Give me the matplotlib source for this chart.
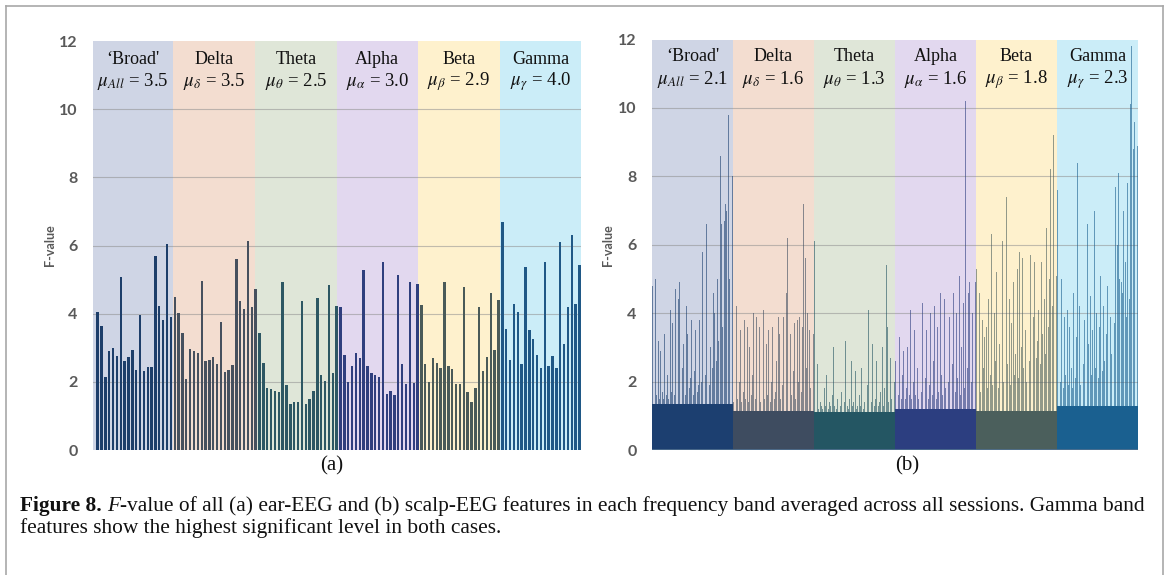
import matplotlib
matplotlib.use('Agg')
import matplotlib.pyplot as plt
import numpy as np
from matplotlib.lines import Line2D

plt.rcParams['mathtext.fontset'] = 'stix'

# ---------------- data ----------------
bands = ["\u2018Broad'", 'Delta', 'Theta', 'Alpha', 'Beta', 'Gamma']
mu_syms = [r'$\mu_{All}$', r'$\mu_{\delta}$', r'$\mu_{\theta}$',
           r'$\mu_{\alpha}$', r'$\mu_{\beta}$', r'$\mu_{\gamma}$']
mu_a = [3.5, 3.5, 2.5, 3.0, 2.9, 4.0]
mu_b = [2.1, 1.6, 1.3, 1.6, 1.8, 2.3]
yticks = [0, 2, 4, 6, 8, 10, 12]

# (a) ear-EEG features
ear_broad = [4.04, 3.65, 2.15, 2.89, 2.98, 2.77, 5.07, 2.60, 2.74, 2.92,
             2.36, 3.95, 2.33, 2.44, 2.43, 5.68, 4.23, 3.81, 6.03, 3.91]
ear_delta = [4.50, 4.01, 3.43, 2.08, 2.96, 2.91, 2.86, 4.95, 2.61, 2.65, 2.74,
             2.51, 3.76, 2.28, 2.34, 2.48, 5.61, 4.36, 4.13, 6.12, 4.21, 4.72]
ear_theta = [3.42, 2.54, 1.81, 1.79, 1.74, 1.71, 4.93, 1.90, 1.35, 1.42, 1.42,
             4.37, 1.36, 1.49, 1.74, 4.46, 2.20, 2.03, 4.84, 2.27, 4.22]
ear_alpha = [4.19, 2.79, 2.00, 2.46, 2.84, 2.70, 5.29, 2.46, 2.27, 2.21, 2.13,
             5.52, 1.65, 1.74, 1.60, 5.12, 2.53, 1.95, 4.93, 1.98, 4.88]
ear_beta = [4.26, 2.52, 1.99, 2.71, 2.56, 2.41, 4.94, 2.45, 2.37, 1.93, 1.93,
            4.79, 1.71, 1.42, 1.81, 4.20, 2.32, 2.73, 4.61, 2.93, 4.40]
ear_gamma = [6.69, 3.56, 2.63, 4.29, 4.04, 2.53, 5.36, 3.53, 3.25, 2.79, 2.42,
             5.53, 2.47, 2.75, 2.42, 6.11, 3.11, 4.21, 6.30, 4.29, 5.44]

# (b) scalp-EEG features (sampled read-off of the dense bars)
scalp_broad = [4.8, 3.4, 5.0, 1.6, 3.2, 1.5, 2.9, 1.7, 1.5, 3.4,
               1.6, 2.2, 1.5, 4.1, 1.7, 3.7, 1.6, 4.7, 2.0, 4.4,
               4.9, 1.7, 2.4, 3.1, 1.6, 4.2, 3.4, 1.8, 2.1, 3.8,
               1.6, 2.3, 3.5, 1.7, 1.9, 3.8, 2.0, 5.8, 3.9, 2.2,
               6.6, 4.4, 1.9, 3.0, 2.4, 4.6, 4.0, 2.6, 5.0, 3.2,
               8.6, 6.6, 3.6, 6.7, 7.2, 7.0, 9.8, 5.0, 6.5, 8.0]
scalp_delta = [1.4, 1.6, 4.2, 1.5, 2.0, 3.5, 1.4, 1.7, 3.8, 1.5,
               3.6, 1.4, 3.0, 1.6, 2.2, 4.0, 1.5, 3.9, 1.7, 3.6,
               1.4, 2.4, 4.1, 1.5, 3.1, 1.6, 3.5, 1.4, 2.0, 3.6,
               1.5, 1.7, 2.6, 3.9, 3.4, 1.5, 1.9, 3.9, 1.6, 4.6,
               6.2, 1.8, 3.4, 1.6, 2.3, 3.7, 1.5, 3.8, 2.0, 3.9,
               1.7, 3.6, 7.2, 5.6, 2.4, 4.0, 3.5, 1.8, 3.0, 3.4]
scalp_theta = [6.1, 1.3, 2.5, 1.2, 1.4, 1.3, 1.2, 1.8, 1.3, 2.2,
               1.2, 1.4, 1.3, 1.6, 3.0, 1.3, 1.2, 1.5, 2.9, 1.3,
               1.7, 3.5, 1.4, 3.2, 1.3, 1.2, 1.5, 2.6, 1.3, 1.4,
               2.3, 1.2, 1.3, 1.6, 1.3, 2.4, 1.2, 1.4, 1.3, 1.9,
               4.1, 4.8, 1.4, 3.1, 1.3, 1.5, 2.6, 1.3, 1.4, 1.7,
               3.0, 1.3, 1.8, 5.4, 3.6, 1.4, 2.7, 1.5, 2.9, 2.0]
scalp_alpha = [2.6, 3.2, 1.6, 3.3, 1.5, 2.2, 2.9, 1.5, 1.8, 3.0,
               1.6, 4.1, 1.5, 2.0, 3.5, 1.6, 2.4, 1.5, 7.0, 1.7,
               4.3, 1.6, 2.1, 3.5, 1.5, 1.9, 4.0, 1.6, 2.6, 4.2,
               1.5, 3.6, 1.7, 4.6, 2.2, 1.6, 4.4, 1.8, 5.6, 2.0,
               3.9, 1.6, 2.5, 4.6, 1.7, 4.0, 2.1, 5.1, 1.6, 3.0,
               4.3, 1.8, 10.2, 2.4, 4.6, 4.9, 2.0, 4.0, 5.0, 4.9]
scalp_beta = [5.3, 2.0, 4.6, 1.7, 3.8, 2.4, 3.3, 3.6, 1.8, 4.4,
              2.2, 6.3, 1.9, 4.0, 2.6, 5.2, 1.8, 3.1, 2.3, 6.1,
              2.0, 3.4, 7.4, 2.5, 4.4, 1.9, 3.7, 4.9, 2.2, 2.8,
              5.3, 2.1, 5.8, 3.0, 5.6, 2.4, 3.5, 2.0, 4.5, 2.6,
              5.7, 2.3, 3.9, 5.5, 2.7, 3.2, 4.1, 2.5, 5.5, 3.4,
              4.4, 2.8, 6.5, 3.6, 5.0, 8.2, 4.2, 9.2, 6.0, 5.1]
scalp_gamma = [7.6, 4.3, 2.0, 5.0, 1.8, 3.9, 2.2, 4.1, 1.9, 3.6,
               2.4, 1.8, 4.6, 2.1, 3.3, 8.4, 4.2, 1.9, 5.6, 2.5,
               3.8, 2.0, 6.6, 3.1, 4.5, 2.2, 3.5, 7.0, 2.4, 4.0,
               2.1, 3.6, 5.1, 2.3, 4.2, 2.6, 3.4, 4.8, 2.5, 3.9,
               2.8, 7.1, 3.7, 7.7, 6.0, 8.1, 5.0, 4.9, 4.6, 7.0,
               5.5, 3.9, 7.8, 4.4, 10.1, 11.8, 8.8, 9.6, 9.4, 8.9]
scalp_floor = [1.35, 1.15, 1.1, 1.2, 1.15, 1.3]

ear = [ear_broad, ear_delta, ear_theta, ear_alpha, ear_beta, ear_gamma]
scalp = [scalp_broad, scalp_delta, scalp_theta, scalp_alpha, scalp_beta, scalp_gamma]

# ---------------- style ----------------
bg_cols = ['#cfd5e5', '#f3ddd0', '#dfe6d8', '#e2d8ef', '#fef1cd', '#cbedf8']
bar_a_cols = ['#1d3e6a', '#46505e', '#2d5763', '#2f3f7e', '#4a5a58', '#1f5886']
bar_b_cols = ['#1c3f70', '#3e4c60', '#245663', '#2c3e80', '#4b5f5c', '#1a6090']
a_edges = [-1.2, 19.6, 40.8, 62.0, 83.1, 104.3, 125.4]

W, H = 1168, 575
fig = plt.figure(figsize=(W / 100, H / 100), dpi=100)
fig.patch.set_facecolor('white')

SERIF = 'Liberation Serif'
TICKF = 'Lato'
GREY = '#595959'


def ax_px(l, t, r, b):
    return fig.add_axes([l / W, 1 - b / H, (r - l) / W, (b - t) / H])


def style_axis(ax):
    ax.set_ylim(0, 12)
    ax.set_yticks(yticks)
    ax.set_yticklabels([str(v) for v in yticks], fontsize=11.5,
                       fontweight='bold', color=GREY, family=TICKF)
    ax.tick_params(axis='y', length=0, pad=11)
    ax.set_xticks([])
    for s in ax.spines.values():
        s.set_visible(False)
    for v in yticks[1:-1]:
        ax.axhline(v, color='#8f8f8f', lw=0.8, alpha=0.55, zorder=1)


def band_labels(ax, edges, mus, y1, y2):
    for i in range(6):
        c = 0.5 * (edges[i] + edges[i + 1])
        ax.text(c, y1, bands[i], ha='center', va='center', fontsize=13,
                family=SERIF, color='#111111', zorder=5)
        ax.text(c, y2, f'{mu_syms[i]} = {mus[i]:.1f}', ha='center',
                va='center', fontsize=13.5, family=SERIF, color='#111111',
                zorder=5)


# ---------- panel (a) ----------
axa = ax_px(93, 41, 581, 450)
style_axis(axa)
for i in range(6):
    axa.axvspan(a_edges[i], a_edges[i + 1], color=bg_cols[i], lw=0, zorder=0)
x0 = 0
for i, vals in enumerate(ear):
    xs = np.arange(x0, x0 + len(vals))
    axa.bar(xs, vals, width=0.62, color=bar_a_cols[i], lw=0, zorder=3)
    x0 += len(vals)
axa.set_xlim(a_edges[0], a_edges[-1])
band_labels(axa, a_edges, mu_a, 11.45, 10.82)

# ---------- panel (b) ----------
axb = ax_px(652, 39.5, 1138, 450)
style_axis(axb)
b_edges = []
x0 = 0
for i, vals in enumerate(scalp):
    b_edges.append(x0 - 0.5)
    xs = np.arange(x0, x0 + len(vals))
    v = np.array(vals)
    axb.axvspan(x0 - 0.5, x0 + len(vals) - 0.5, color=bg_cols[i], lw=0, zorder=0)
    axb.bar(xs, v, width=0.7, color=bar_b_cols[i], alpha=0.6, lw=0, zorder=3)
    axb.bar(xs, np.minimum(v, scalp_floor[i]), width=1.0,
            color=bar_b_cols[i], lw=0, zorder=4)
    x0 += len(vals)
b_edges.append(x0 - 0.5)
axb.set_xlim(b_edges[0], b_edges[-1])
axb.axhline(0, color='#50708f', lw=1.2, zorder=6)
band_labels(axb, b_edges, mu_b, 11.5, 10.82)

# y labels
fig.text(50 / W, 1 - 245 / H, 'F-value', rotation=90, ha='center', va='center',
         fontsize=9, fontweight='bold', color=GREY, family=TICKF)
fig.text(608 / W, 1 - 245 / H, 'F-value', rotation=90, ha='center', va='center',
         fontsize=9, fontweight='bold', color=GREY, family=TICKF)

# sub labels
fig.text(332 / W, 1 - 466 / H, '(a)', ha='center', va='center', fontsize=15,
         family=SERIF, color='#111111')
fig.text(907 / W, 1 - 466 / H, '(b)', ha='center', va='center', fontsize=15,
         family=SERIF, color='#111111')

# frame
fc = '#a8a8a8'
fig.add_artist(Line2D([6 / W, 1163 / W], [1 - 6 / H, 1 - 6 / H], color=fc, lw=1.2))
fig.add_artist(Line2D([6 / W, 6 / W], [1 - 6 / H, 0], color=fc, lw=1.2))
fig.add_artist(Line2D([1163 / W, 1163 / W], [1 - 6 / H, 0], color=fc, lw=1.2))

# caption
renderer = fig.canvas.get_renderer()
line1 = [('Figure 8.', dict(fontweight='bold')),
         (' ', {}),
         ('F', dict(style='italic')),
         ('-value of all (a) ear-EEG and (b) scalp-EEG features in each frequency '
          'band averaged across all sessions. Gamma band', {})]
line2 = [('features show the highest significant level in both cases.', {})]


def place(runs, x_px, base_px, size):
    texts = []
    x = x_px
    for s, kw in runs:
        t = fig.text(x / W, 1 - base_px / H, s, fontsize=size, family=SERIF,
                     va='baseline', ha='left', color='#111111', **kw)
        bb = t.get_window_extent(renderer=renderer)
        x += bb.width
        texts.append(t)
    return texts, x


tmp, xe = place(line1, 20, 511, 14)
for t in tmp:
    t.remove()
size = 14 * (1148 - 20) / (xe - 20)
place(line1, 20, 511, size)
place(line2, 20, 533, size)

fig.savefig('out.png', dpi=100)
